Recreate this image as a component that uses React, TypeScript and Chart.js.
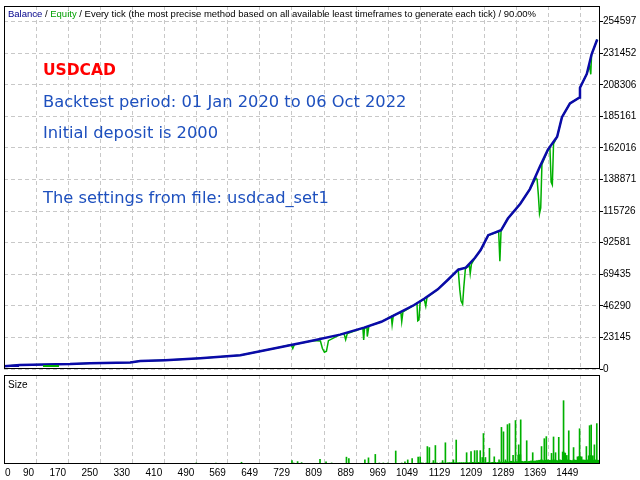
import React, { useEffect, useRef } from 'react';
import { Chart, registerables } from 'chart.js';

Chart.register(...registerables);

// ---- data ----
const balanceTrades = [10, 50, 112, 175, 225, 325, 350, 412, 500, 600, 699, 782, 849, 909, 952, 991, 1034, 1059, 1093, 1119, 1144, 1163, 1186, 1200, 1219, 1251, 1268, 1299, 1323, 1348, 1368, 1391, 1403, 1423, 1447, 1448, 1465, 1477, 1491];
const balanceValues = [2000, 2900, 3300, 3600, 4300, 4700, 5800, 6500, 7900, 10100, 15900, 20900, 25200, 30300, 34600, 40400, 46900, 51500, 58400, 65600, 72800, 74300, 81500, 87200, 98100, 101700, 110300, 121100, 131900, 148500, 160800, 170200, 184600, 194700, 199000, 206200, 216300, 230700, 241500];

const equityTrades = [10, 50, 112, 175, 225, 325, 350, 412, 500, 600, 699, 727, 731, 735, 782, 800, 805, 810, 815, 820, 849, 859, 863, 867, 906, 908, 910, 916, 917, 921, 952, 977, 979, 982, 991, 1001, 1003, 1006, 1034, 1041, 1043, 1046, 1049, 1059, 1063, 1066, 1093, 1119, 1144, 1148, 1151, 1155, 1158, 1162, 1172, 1174, 1177, 1186, 1200, 1219, 1245, 1248, 1251, 1268, 1299, 1323, 1338, 1341, 1344, 1347, 1350, 1353, 1368, 1373, 1376, 1379, 1382, 1391, 1403, 1423, 1447, 1448, 1465, 1472, 1475, 1477, 1491];
const equityValues = [2000, 2900, 3300, 3600, 4300, 4700, 5800, 6500, 7900, 10100, 15900, 17800, 15000, 17900, 20900, 20500, 15000, 12300, 13000, 20800, 25200, 25800, 21500, 25900, 30000, 21300, 29800, 30800, 23800, 31500, 34600, 38600, 32400, 39200, 40400, 41200, 34800, 41800, 46900, 48300, 35300, 36000, 49500, 51300, 46100, 52400, 58400, 65600, 72800, 58000, 50000, 47600, 60000, 73800, 75600, 70000, 76800, 81500, 87200, 98100, 100800, 79000, 101700, 110300, 121100, 131900, 140000, 139000, 128000, 113900, 118000, 150000, 160800, 162000, 137000, 135000, 165000, 170200, 184600, 194700, 199000, 206200, 216300, 222000, 216000, 230700, 241500];

const yTickValues = [0, 23145, 46290, 69435, 92581, 115726, 138871, 162016, 185161, 208306, 231452, 254597];
const xTickValues = [10, 90, 170, 250, 330, 410, 490, 569, 649, 729, 809, 889, 969, 1049, 1129, 1209, 1289, 1369, 1449];
const xTickLabels = ['0', '90', '170', '250', '330', '410', '490', '569', '649', '729', '809', '889', '969', '1049', '1129', '1209', '1289', '1369', '1449'];

const sizeTrades = [411, 427, 480, 490, 539, 561, 570, 578, 585, 603, 610, 631, 651, 666, 692, 702, 729, 733, 743, 753, 763, 799, 814, 820, 828, 865, 871, 886, 901, 911, 920, 937, 947, 957, 968, 988, 1003, 1011, 1018, 1029, 1044, 1049, 1067, 1072, 1082, 1087, 1105, 1112, 1132, 1139, 1165, 1176, 1185, 1191, 1199, 1204, 1207, 1212, 1222, 1234, 1246, 1252, 1257, 1262, 1267, 1272, 1281, 1287, 1295, 1300, 1315, 1330, 1352, 1359, 1364, 1377, 1382, 1387, 1395, 1407, 1420, 1432, 1447, 1464, 1472, 1476, 1484, 1490];
const sizeValues = [0.2, 0.1, 0.1, 0.3, 0.3, 0.2, 0.2, 0.2, 0.2, 0.5, 0.1, 0.1, 0.1, 0.1, 0.1, 0.1, 1.0, 0.3, 0.7, 0.4, 0.1, 1.4, 0.6, 0.2, 0.3, 2.0, 1.6, 0.2, 0.2, 1.2, 1.8, 2.8, 0.3, 0.3, 0.3, 3.8, 0.3, 0.6, 1.2, 1.6, 2.0, 2.1, 5.1, 4.8, 1.0, 5.4, 1.0, 6.2, 1.2, 7.0, 3.3, 3.6, 3.9, 3.9, 3.9, 1.9, 8.9, 1.9, 4.6, 2.1, 1.2, 10.7, 9.4, 1.2, 11.5, 11.8, 2.5, 12.7, 5.6, 12.9, 6.8, 3.3, 5.1, 7.4, 8.0, 3.1, 7.9, 3.3, 7.8, 18.5, 9.7, 4.8, 10.3, 5.1, 11.2, 11.4, 5.6, 11.8];

const floorTrades = [1050, 1055, 1060, 1065, 1070, 1075, 1080, 1085, 1090, 1095, 1100, 1105, 1110, 1115, 1120, 1125, 1130, 1135, 1140, 1145, 1150, 1155, 1160, 1165, 1170, 1175, 1180, 1185, 1190, 1195, 1200, 1205, 1210, 1215, 1220, 1225, 1230, 1235, 1240, 1245, 1250, 1255, 1260, 1265, 1270, 1275, 1280, 1285, 1290, 1295, 1298, 1302, 1307, 1312, 1317, 1322, 1327, 1332, 1337, 1342, 1347, 1352, 1357, 1362, 1367, 1372, 1377, 1382, 1387, 1392, 1397, 1402, 1406, 1410, 1414, 1418, 1423, 1428, 1433, 1438, 1443, 1447, 1451, 1456, 1461, 1466, 1471, 1475, 1479, 1483, 1488, 1493];
const floorValues = [0.3, 0.3, 0.2, 0.3, 0.3, 0.2, 0.3, 0.3, 0.3, 0.2, 0.3, 0.3, 0.3, 0.3, 0.4, 0.4, 0.4, 0.4, 0.3, 0.4, 0.4, 0.4, 0.4, 0.4, 0.4, 0.4, 0.5, 0.4, 0.4, 0.5, 0.4, 0.5, 0.4, 0.4, 0.5, 0.4, 0.5, 0.5, 0.4, 0.5, 0.6, 0.5, 0.6, 0.7, 0.6, 0.8, 0.7, 0.6, 0.7, 2.6, 2.7, 0.8, 0.7, 0.8, 0.7, 0.8, 0.9, 0.8, 0.9, 1.0, 1.1, 1.2, 1.0, 1.1, 1.2, 1.1, 1.0, 1.2, 1.1, 1.0, 1.2, 1.1, 3.5, 3.2, 2.5, 1.2, 1.1, 1.0, 1.2, 1.1, 2.1, 2.2, 2.1, 1.2, 1.1, 1.2, 2.4, 2.5, 2.4, 1.1, 1.2, 1.1];

const headerParts: [string, string][] = [
  ['Balance', '#00008b'],
  [' / ', '#000000'],
  ['Equity', '#00a000'],
  [' / Every tick (the most precise method based on all available least timeframes to generate each tick) / 90.00%', '#000000'],
];
const noteTitle = 'USDCAD';
const noteLines = [
  'Backtest period: 01 Jan 2020 to 06 Oct 2022',
  'Initial deposit is 2000',
  'The settings from file: usdcad_set1',
];

const BLUE = '#0a0aa8';
const GREEN = '#00b000';
const GRID = '#c8c8c8';
const SMALL_FONT = '10px "Liberation Sans", Arial, sans-serif';
const HEADER_FONT = '9.5px "Liberation Sans", Arial, sans-serif';

const mainDecor = {
  id: 'mainDecor',
  afterDraw(chart: any) {
    const { ctx, chartArea: a } = chart;
    ctx.save();
    ctx.strokeStyle = '#000';
    ctx.lineWidth = 1;
    ctx.setLineDash([]);
    ctx.strokeRect(a.left + 0.5, a.top + 0.5, a.right - a.left - 1, a.bottom - a.top - 1);
    // header
    ctx.font = HEADER_FONT;
    ctx.textBaseline = 'middle';
    ctx.textAlign = 'left';
    let x = a.left + 4;
    for (const [t, c] of headerParts) {
      ctx.fillStyle = c;
      ctx.fillText(t, x, a.top + 8);
      x += ctx.measureText(t).width;
    }
    // legend swatches
    ctx.lineWidth = 2;
    ctx.strokeStyle = BLUE;
    ctx.beginPath();
    ctx.moveTo(a.left + 1, a.bottom - 3);
    ctx.lineTo(a.left + 15, a.bottom - 3);
    ctx.stroke();
    ctx.strokeStyle = GREEN;
    ctx.beginPath();
    ctx.moveTo(a.left + 39, a.bottom - 3);
    ctx.lineTo(a.left + 55, a.bottom - 3);
    ctx.stroke();
    // notes
    ctx.textBaseline = 'alphabetic';
    ctx.font = 'bold 15.5px "DejaVu Sans", Verdana, sans-serif';
    ctx.fillStyle = '#ff0000';
    ctx.fillText(noteTitle, 43, 75);
    ctx.font = '16.3px "DejaVu Sans", Verdana, sans-serif';
    ctx.fillStyle = '#1e50be';
    const ys = [107, 138, 203];
    noteLines.forEach((t, i) => ctx.fillText(t, 43, ys[i]));
    ctx.restore();
  },
};

const subDecor = {
  id: 'subDecor',
  afterDraw(chart: any) {
    const { ctx, chartArea: a } = chart;
    const xs = chart.scales.x;
    ctx.save();
    ctx.strokeStyle = '#000';
    ctx.lineWidth = 1;
    ctx.setLineDash([]);
    ctx.strokeRect(a.left + 0.5, a.top + 0.5, a.right - a.left - 1, a.bottom - a.top - 1);
    ctx.font = SMALL_FONT;
    ctx.fillStyle = '#000';
    ctx.textBaseline = 'middle';
    ctx.textAlign = 'left';
    ctx.fillText('Size', a.left + 4, a.top + 10);
    xTickValues.forEach((v, i) => {
      const px = xs.getPixelForValue(v);
      if (i === 0) {
        ctx.textAlign = 'left';
        ctx.fillText(xTickLabels[i], px + 1, a.bottom + 9);
      } else {
        ctx.textAlign = 'right';
        ctx.fillText(xTickLabels[i], px - 2, a.bottom + 9);
      }
    });
    ctx.restore();
  },
};

const xMin = 10;
const xMax = 1498;

export default function App() {
  const mainRef = useRef<HTMLCanvasElement>(null);
  const subRef = useRef<HTMLCanvasElement>(null);

  useEffect(() => {
    document.body.style.margin = '0';
    const gridColor = (c: any) => (c.index === 0 ? 'rgba(0,0,0,0)' : GRID);
    const main = new Chart(mainRef.current!, {
      type: 'line',
      data: {
        datasets: [
          {
            label: 'Balance',
            data: balanceTrades.map((t, i) => ({ x: t, y: balanceValues[i] })),
            borderColor: BLUE,
            borderWidth: 2.5,
            pointRadius: 0,
            tension: 0,
          },
          {
            label: 'Equity',
            data: equityTrades.map((t, i) => ({ x: t, y: equityValues[i] })),
            borderColor: GREEN,
            borderWidth: 1.5,
            pointRadius: 0,
            tension: 0,
          },
        ],
      },
      options: {
        responsive: false,
        animation: false,
        devicePixelRatio: 1,
        layout: { padding: { left: 4, top: 4, right: 0, bottom: 1 } },
        plugins: { legend: { display: false }, tooltip: { enabled: false } },
        scales: {
          x: {
            type: 'linear',
            min: xMin,
            max: xMax,
            afterBuildTicks: (s: any) => {
              s.ticks = xTickValues.map((v) => ({ value: v }));
            },
            ticks: { display: false },
            grid: { color: gridColor, drawTicks: false },
            border: { display: false, dash: [4, 3] },
            afterFit: (s: any) => {
              s.height = 0;
            },
          },
          y: {
            position: 'right',
            min: 0,
            max: 266100,
            afterBuildTicks: (s: any) => {
              s.ticks = yTickValues.map((v) => ({ value: v }));
            },
            ticks: {
              callback: (v: any) => String(v),
              font: { family: '"Liberation Sans", Arial, sans-serif', size: 10 },
              color: '#000',
              padding: 0,
              autoSkip: false,
            },
            grid: { color: GRID, tickColor: '#000', tickLength: 3, tickBorderDash: [] },
            border: { display: false, dash: [4, 3] },
            afterFit: (s: any) => {
              s.width = 40;
            },
          },
        },
      },
      plugins: [mainDecor],
    } as any);

    const sub = new Chart(subRef.current!, {
      type: 'bar',
      data: {
        datasets: [
          {
            label: 'Size',
            data: sizeTrades.map((t, i) => ({ x: t, y: sizeValues[i] })),
            backgroundColor: GREEN,
            barThickness: 1,
            grouped: false,
          },
          {
            label: 'Size floor',
            data: floorTrades.map((t, i) => ({ x: t, y: floorValues[i] })),
            backgroundColor: GREEN,
            barThickness: 2,
            grouped: false,
          },
        ],
      },
      options: {
        responsive: false,
        animation: false,
        devicePixelRatio: 1,
        layout: { padding: { left: 4, top: 0, right: 0, bottom: 0 } },
        plugins: { legend: { display: false }, tooltip: { enabled: false } },
        scales: {
          x: {
            type: 'linear',
            min: xMin,
            max: xMax,
            offset: false,
            afterBuildTicks: (s: any) => {
              s.ticks = xTickValues.map((v) => ({ value: v }));
            },
            ticks: { display: false },
            grid: { color: gridColor, drawTicks: false, offset: false },
            border: { display: false, dash: [4, 3] },
            afterFit: (s: any) => {
              s.height = 16;
            },
          },
          y: {
            position: 'right',
            min: 0,
            max: 26,
            ticks: { display: false },
            grid: { display: false },
            border: { display: false },
            afterFit: (s: any) => {
              s.width = 40;
            },
          },
        },
      },
      plugins: [subDecor],
    } as any);

    return () => {
      main.destroy();
      sub.destroy();
    };
  }, []);

  return (
    <div style={{ position: 'relative', width: 640, height: 480, background: '#fff' }}>
      <canvas ref={mainRef} width={640} height={375} style={{ position: 'absolute', left: 0, top: 0, width: 640, height: 375 }} />
      <canvas ref={subRef} width={640} height={105} style={{ position: 'absolute', left: 0, top: 375, width: 640, height: 105 }} />
    </div>
  );
}
